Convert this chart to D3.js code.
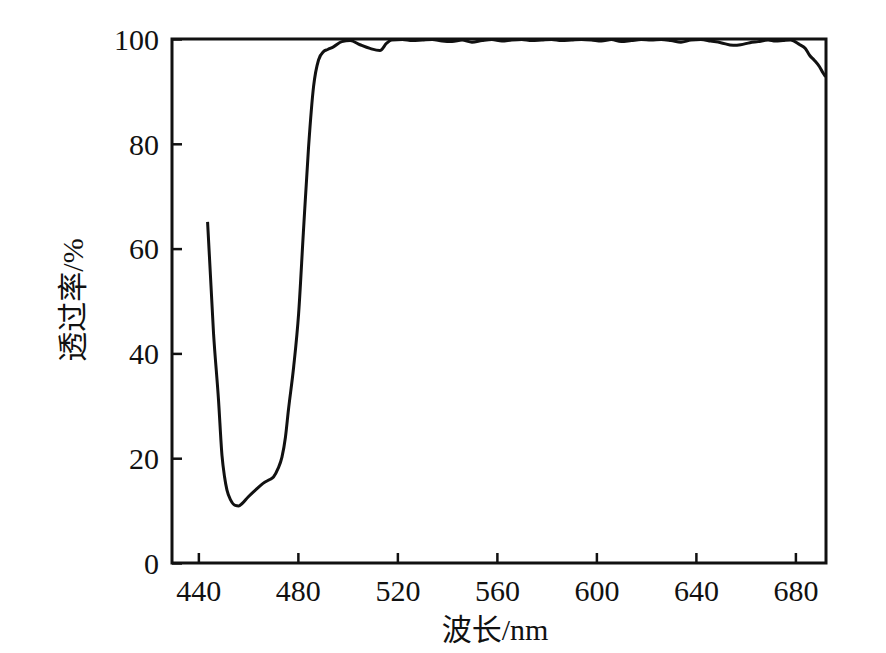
<!DOCTYPE html>
<html>
<head>
<meta charset="utf-8">
<script src="https://cdn.jsdelivr.net/npm/d3@7"></script>
<style>
  body { margin: 0; background: #fff; }
  svg { display: block; }
</style>
</head>
<body>
<svg width="886" height="653"></svg>
<script>
// wavelength (nm) and transmittance (%)
wavelength = [443.7, 446.1, 448.1, 449.5, 450.5, 451.5, 453.0, 454.8, 456.2, 457.5, 460.0,
  462.9, 466.0, 468.5, 470.2, 472.0, 473.6, 475.0, 476.2, 478.3, 480.3, 482.2, 484.3, 486.3,
  488.3, 490.3, 492.0, 494.3, 497.7, 501.0, 505.0, 509.0, 513.0, 515.7, 517.7, 522, 526, 530,
  534, 538, 542, 546, 550, 554, 558, 562, 566, 570, 574, 578, 582, 586, 590, 594, 598, 602,
  606, 610, 614, 618, 622, 626, 630, 634, 638, 642, 646, 650, 655, 658, 661.7, 665, 669, 672,
  675, 678, 681.8, 684, 685.7, 687.5, 689.7, 691, 692.1];
transmittance = [65.1, 43.8, 31.1, 20.5, 16.5, 13.9, 12.0, 11.0, 10.9, 11.3, 12.6,
  13.9, 15.2, 15.9, 16.4, 18.0, 20.2, 24.0, 29.2, 37.4, 47.6, 63.0, 79.4, 90.9,
  96.0, 97.6, 98.0, 98.5, 99.5, 99.7, 98.9, 98.2, 97.8, 99.2, 99.8, 99.9, 99.7, 99.8,
  99.9, 99.6, 99.5, 99.8, 99.4, 99.7, 99.9, 99.6, 99.8, 99.9, 99.7, 99.8, 99.9, 99.7, 99.8,
  99.9, 99.8, 99.6, 99.9, 99.5, 99.7, 99.9, 99.8, 99.9, 99.7, 99.4, 99.8, 99.9, 99.6, 99.3,
  98.8, 98.9, 99.3, 99.5, 99.8, 99.6, 99.7, 99.8, 98.9, 98.2, 96.9, 96.0, 94.7, 93.6, 92.8];
xTicks = [440, 480, 520, 560, 600, 640, 680];
yTicks = [0, 20, 40, 60, 80, 100];
xTitle = "波长/nm";
yTitle = "透过率/%";

margin = {left: 172, right: 60, top: 39, bottom: 90};
width = 886;
height = 653;
serif = "'Liberation Serif', 'Times New Roman', 'Noto Sans CJK SC', serif";

x = d3.scaleLinear().domain([429.4, 692.3]).range([margin.left, width - margin.right]);
y = d3.scaleLinear().domain([0, 100]).range([height - margin.bottom, margin.top]);

function draw() {
  const svg = d3.select("svg");

  const xAxis = svg.append("g")
      .attr("transform", `translate(0,${y(0)})`)
      .call(d3.axisBottom(x).tickValues(xTicks).tickSizeInner(-10).tickSizeOuter(0).tickPadding(17));
  const yAxis = svg.append("g")
      .attr("transform", `translate(${x.range()[0]},0)`)
      .call(d3.axisLeft(y).tickValues(yTicks).tickSizeInner(-10).tickSizeOuter(0).tickPadding(13));

  [xAxis, yAxis].forEach(a => {
    a.attr("font-family", null).attr("font-size", null);
    a.select(".domain").remove();
    a.selectAll(".tick line").attr("stroke", "#111").attr("stroke-width", 2.5);
    a.selectAll(".tick text")
        .style("font-family", serif)
        .style("font-size", "30px")
        .attr("fill", "#111");
  });
  yAxis.selectAll(".tick text").attr("dy", "0.34em");

  // frame
  svg.append("rect")
      .attr("x", x.range()[0])
      .attr("y", y(100))
      .attr("width", x.range()[1] - x.range()[0])
      .attr("height", y(0) - y(100))
      .attr("fill", "none")
      .attr("stroke", "#111")
      .attr("stroke-width", 3);

  const line = d3.line()
      .x((d, i) => x(wavelength[i]))
      .y(d => y(d))
      .curve(d3.curveMonotoneX);

  svg.append("path")
      .datum(transmittance)
      .attr("fill", "none")
      .attr("stroke", "#111")
      .attr("stroke-width", 3)
      .attr("stroke-linejoin", "round")
      .attr("d", line);

  svg.append("text")
      .attr("x", 495)
      .attr("y", 640)
      .attr("text-anchor", "middle")
      .style("font-family", serif)
      .style("font-size", "30px")
      .attr("fill", "#111")
      .text(xTitle);

  svg.append("text")
      .attr("transform", "translate(83,300) rotate(-90)")
      .attr("text-anchor", "middle")
      .style("font-family", serif)
      .style("font-size", "30px")
      .attr("fill", "#111")
      .text(yTitle);
}
draw();
</script>
</body>
</html>
